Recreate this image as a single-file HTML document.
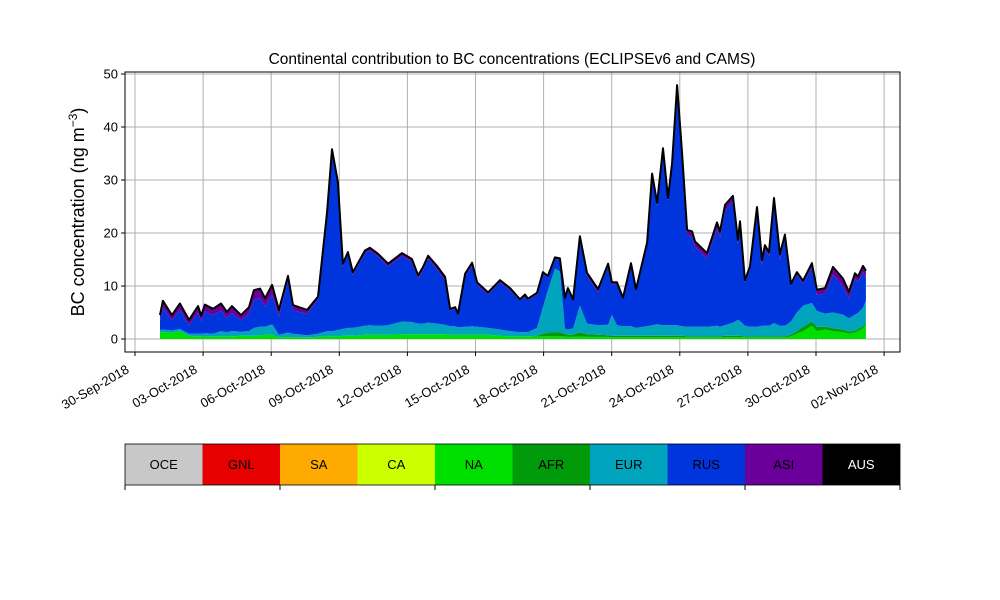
<!DOCTYPE html>
<html><head><meta charset="utf-8"><style>
body{margin:0;background:#fff;}
svg{display:block;font-family:"Liberation Sans","DejaVu Sans",sans-serif;}
</style></head><body>
<svg id="chart" width="1000" height="600"></svg>
<script>
const days=[1.10,1.23,1.63,1.98,2.38,2.78,2.91,3.08,3.44,3.79,4.05,4.27,4.67,5.02,5.24,5.51,5.73,6.04,6.34,6.74,6.96,7.58,8.06,8.46,8.68,8.94,9.16,9.38,9.60,10.13,10.35,10.70,11.15,11.76,12.20,12.47,12.69,12.91,13.30,13.66,13.88,14.10,14.23,14.54,14.85,15.07,15.55,16.08,16.52,16.96,17.18,17.31,17.71,17.97,18.19,18.50,18.72,18.94,19.07,19.30,19.60,19.91,20.40,20.84,21.01,21.23,21.50,21.85,22.07,22.56,22.78,23.00,23.26,23.48,23.66,23.88,24.10,24.32,24.54,24.67,25.20,25.64,25.77,25.99,26.34,26.56,26.65,26.87,27.09,27.40,27.62,27.75,27.93,28.15,28.41,28.63,28.90,29.16,29.43,29.82,30.04,30.40,30.75,31.19,31.45,31.72,31.85,32.07,32.20];
const total=[4.5,7.2,4.5,6.7,3.6,6.2,4.4,6.5,5.7,6.7,5.1,6.2,4.5,6.0,9.2,9.5,7.7,10.2,5.5,11.9,6.4,5.5,8.0,23.8,35.8,29.6,14.2,16.4,12.6,16.7,17.2,16.1,14.2,16.2,15.1,12.0,13.6,15.7,13.8,11.7,5.7,6.0,4.8,12.3,14.4,10.7,8.8,11.1,9.6,7.5,8.4,7.6,8.7,12.6,11.9,15.4,15.2,7.8,9.6,7.5,19.4,12.5,9.4,14.2,10.7,10.7,7.8,14.3,9.4,18.2,31.2,25.7,36.0,26.6,33.2,47.9,35.0,20.6,20.3,18.4,16.2,22.0,20.3,25.3,27.0,18.7,22.2,11.1,13.6,24.9,14.9,17.7,16.4,26.6,16.0,19.7,10.4,12.6,11.0,14.3,9.3,9.6,13.6,11.4,8.9,12.4,11.8,13.8,12.9];
const naV=[1.3,1.3,1.2,1.5,0.6,0.5,0.5,0.5,0.5,0.5,0.5,0.5,0.6,0.6,0.6,0.7,0.8,0.8,0.3,0.4,0.3,0.3,0.4,0.5,0.5,0.5,0.6,0.6,0.6,0.8,0.8,0.8,0.8,0.9,0.9,0.9,0.9,0.9,0.9,0.9,0.8,0.8,0.8,0.8,0.8,0.8,0.8,0.6,0.5,0.5,0.5,0.5,0.5,0.5,0.5,0.5,0.5,0.5,0.4,0.4,0.5,0.4,0.4,0.4,0.3,0.3,0.3,0.3,0.3,0.3,0.3,0.3,0.3,0.3,0.3,0.3,0.3,0.3,0.3,0.3,0.3,0.3,0.3,0.3,0.3,0.3,0.3,0.3,0.3,0.3,0.3,0.3,0.3,0.3,0.3,0.3,0.5,1.0,1.5,2.5,1.5,1.8,1.5,1.3,1.0,1.2,1.5,2.0,2.8];
const afrV=[0,0,0,0,0,0,0,0,0,0,0,0,0,0,0,0,0,0,0,0,0,0,0,0,0,0,0,0,0,0,0,0,0,0,0,0,0,0,0,0,0,0,0,0,0,0,0,0,0,0,0,0,0.1,0.5,0.7,0.8,0.8,0.5,0.4,0.4,0.8,0.5,0.4,0.3,0.3,0.3,0.3,0.3,0.3,0.3,0.3,0.3,0.3,0.3,0.3,0.3,0.3,0.2,0.2,0.2,0.2,0.2,0.2,0.3,0.3,0.3,0.3,0.2,0.2,0.2,0.2,0.2,0.2,0.2,0.2,0.2,0.3,0.5,0.8,0.8,0.8,0.5,0.5,0.5,0.4,0.4,0.4,0.4,0.4];
const eurV=[0.5,0.5,0.4,0.4,0.4,0.5,0.5,0.6,0.5,1.0,0.8,1.0,0.8,0.9,1.5,1.6,1.5,2.0,0.5,0.8,0.7,0.4,0.6,1.0,1.0,1.2,1.3,1.5,1.5,1.7,1.8,1.7,1.8,2.4,2.3,2.0,2.0,2.2,2.0,1.8,1.6,1.6,1.4,1.5,1.6,1.5,1.3,1.2,1.0,0.8,0.8,0.8,1.5,5.0,8.0,12.0,11.5,1.0,1.0,1.2,5.0,2.0,1.8,2.0,4.0,2.0,1.8,1.8,1.5,1.8,2.0,2.2,2.0,2.0,2.0,2.0,1.8,1.8,1.8,1.8,1.8,2.0,1.8,2.0,2.5,3.0,2.8,2.0,1.8,1.8,2.0,2.0,2.0,2.5,2.0,2.0,2.5,3.5,4.0,3.5,3.0,2.5,3.0,2.8,2.5,3.0,3.0,3.5,4.0];
const asiV=[1.0,1.2,1.0,1.2,1.0,1.2,1.0,1.3,1.2,1.3,1.2,1.3,1.0,1.2,1.8,1.8,1.6,1.8,1.3,0.8,1.0,0.8,0.5,0.3,0.3,0.3,0.4,0.4,0.5,0.5,0.5,0.5,0.5,0.5,0.6,0.6,0.6,0.5,0.6,0.6,0.3,0.3,0.3,0.5,0.6,0.5,0.4,0.4,0.4,0.3,0.3,0.3,0.3,0.4,0.3,0.3,0.3,0.3,0.3,0.3,0.5,0.6,0.6,0.5,0.4,0.4,0.3,0.3,0.3,0.3,0.5,0.7,0.5,0.5,0.5,0.8,0.8,1.0,1.0,1.0,1.0,1.2,1.2,1.2,1.0,0.8,0.8,0.5,0.6,0.8,1.0,0.8,0.8,1.0,1.0,0.8,0.4,0.5,0.5,0.8,1.0,1.0,1.5,1.5,1.3,1.0,1.0,1.2,1.3];
const yTicks=[0,10,20,30,40,50];
const xTickDays=[0,3,6,9,12,15,18,21,24,27,30,33];
const xTickLabels=["30-Sep-2018","03-Oct-2018","06-Oct-2018","09-Oct-2018","12-Oct-2018","15-Oct-2018","18-Oct-2018","21-Oct-2018","24-Oct-2018","27-Oct-2018","30-Oct-2018","02-Nov-2018"];
const regions=["OCE","GNL","SA","CA","NA","AFR","EUR","RUS","ASI","AUS"];
const regionColors=["#c8c8c8","#e60000","#ffaa00","#ccff00","#00e000","#009a0a","#00a5bd","#0035dd","#6a0099","#000000"];

const NS="http://www.w3.org/2000/svg";
const svg=document.getElementById('chart');
const L=125,R=900,T=72,B=352;
const X=d=>135+22.7*d;
const Y=v=>339-5.3*v;
function mk(tag,attrs,parent){const e=document.createElementNS(NS,tag);for(const k in attrs)e.setAttribute(k,attrs[k]);(parent||svg).appendChild(e);return e;}

yTicks.forEach(v=>{const g=mk('line',{x1:L,x2:R,y1:Y(v),y2:Y(v),stroke:'#b0b0b0','stroke-width':1});

});
xTickDays.forEach(d=>{const g=mk('line',{x1:X(d),x2:X(d),y1:T,y2:B,stroke:'#b0b0b0','stroke-width':1});

});

const layers=[["na",naV,regionColors[4]],["afr",afrV,regionColors[5]],["eur",eurV,regionColors[6]],["rus",null,regionColors[7]],["asi",asiV,regionColors[8]]];
let base=days.map(()=>0);
layers.forEach(([nm,vals,col])=>{
  const v=vals?vals:days.map((_,i)=>Math.max(0,total[i]-naV[i]-afrV[i]-eurV[i]-asiV[i]));
  const top=base.map((b,i)=>b+v[i]);
  let d='M'+days.map((t,i)=>X(t).toFixed(1)+','+Y(top[i]).toFixed(1)).join('L');
  for(let i=days.length-1;i>=0;i--)d+='L'+X(days[i]).toFixed(1)+','+Y(base[i]).toFixed(1);
  d+='Z';
  const p=mk('path',{d:d,fill:col,stroke:'none'});
  
  
  base=top;
});
const tl=mk('path',{d:'M'+days.map((t,i)=>X(t).toFixed(1)+','+Y(total[i]).toFixed(1)).join('L'),fill:'none',stroke:'#000','stroke-width':2,'stroke-linejoin':'round'});



const fr=mk('rect',{x:L,y:T,width:R-L,height:B-T,fill:'none',stroke:'#000','stroke-width':1});



yTicks.forEach(v=>{
  const t=mk('line',{x1:L-4,x2:L,y1:Y(v),y2:Y(v),stroke:'#000'});
  
  
  const tx=mk('text',{x:L-7,y:Y(v)+4.5,'text-anchor':'end','font-size':13});
  tx.textContent=v;
  
  
});
xTickDays.forEach((d,i)=>{
  const t=mk('line',{x1:X(d),x2:X(d),y1:B,y2:B+4,stroke:'#000'});
  
  
  const ax=X(d)-5, ay=B+20;
  const tx=mk('text',{x:ax,y:ay,'text-anchor':'end','font-size':13,transform:'rotate(-30 '+ax+' '+ay+')'});
  tx.textContent=xTickLabels[i];
  
  
});

const ti=mk('text',{x:512,y:64,'text-anchor':'middle','font-size':15.5});
ti.textContent='Continental contribution to BC concentrations (ECLIPSEv6 and CAMS)';


const yl=mk('text',{x:0,y:0,'text-anchor':'middle','font-size':18,transform:'translate(84 212) rotate(-90)'});
yl.innerHTML='BC concentration (ng m<tspan dy="-7" font-size="12">−3</tspan><tspan dy="7">)</tspan>';



const cw=(R-L)/regions.length;
regions.forEach((r,i)=>{
  const c=mk('rect',{x:L+i*cw,y:444,width:cw,height:41,fill:regionColors[i]});
  
  
  const tx=mk('text',{x:L+i*cw+cw/2,y:469,'text-anchor':'middle','font-size':13,fill:r==='AUS'?'#fff':'#000'});
  tx.textContent=r;
  
  
});
const cb=mk('rect',{x:L,y:444,width:R-L,height:41,fill:'none',stroke:'#000','stroke-width':0.8});


for(let i=0;i<=regions.length;i+=2){
  const t=mk('line',{x1:L+i*cw,x2:L+i*cw,y1:485,y2:490,stroke:'#000'});
  
  
}
</script>
</body></html>
